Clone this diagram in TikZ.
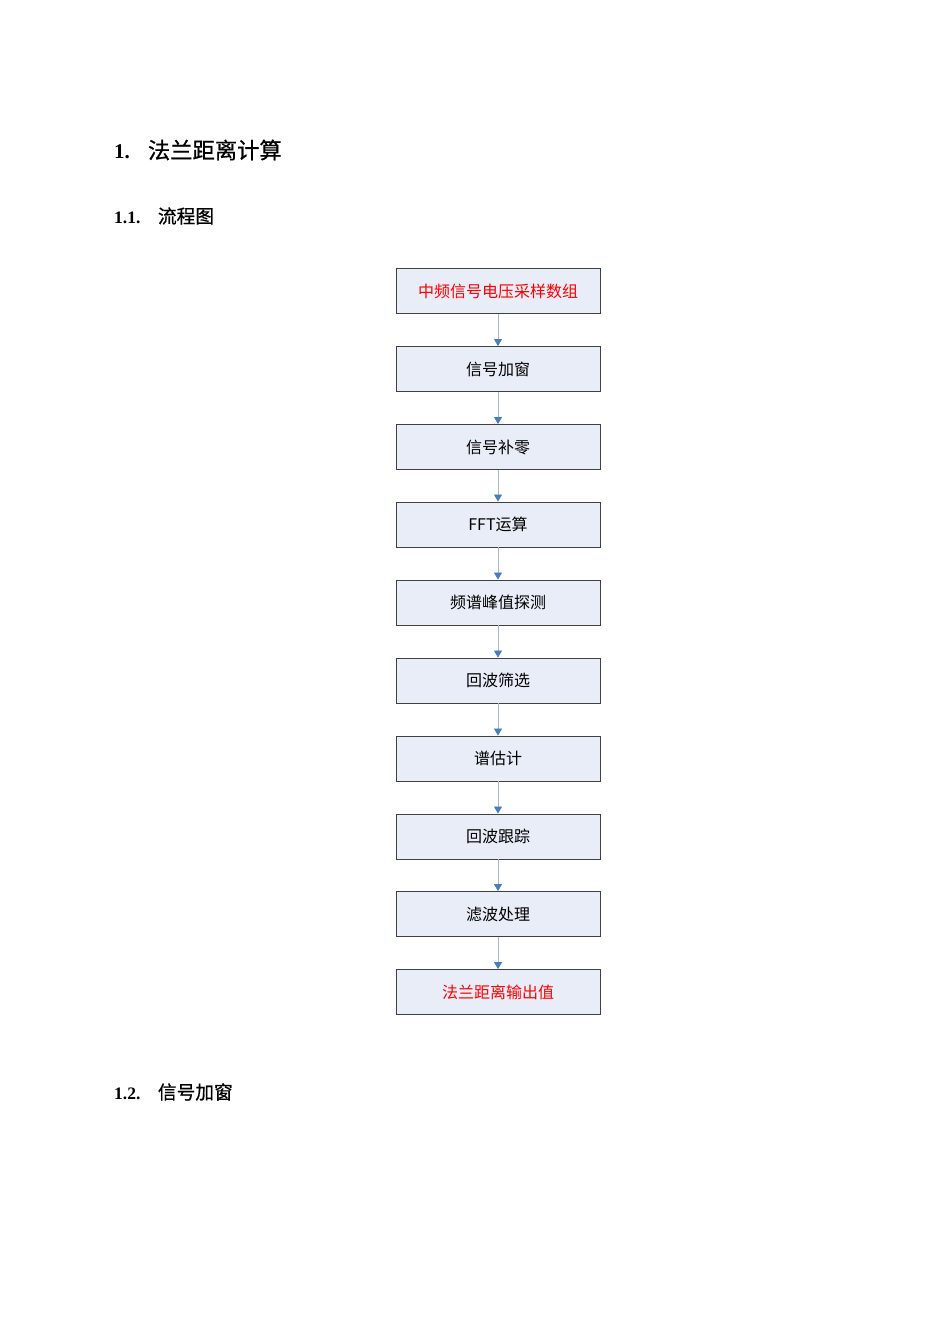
\documentclass[tikz,border=0pt]{standalone}
\usepackage{fontspec}
\setmainfont{Liberation Serif}
\newfontfamily\cjk{Noto Sans CJK SC}
\newfontfamily\cjkh[FakeBold=0.8]{Noto Sans CJK SC}
\usetikzlibrary{arrows.meta}
\definecolor{boxfill}{HTML}{E9EDF7}
\definecolor{boxedge}{HTML}{404040}
\definecolor{arrowc}{HTML}{4A7EBB}
\definecolor{linec}{HTML}{A8B8D0}
\definecolor{redtxt}{HTML}{FF0000}
\tikzset{
  stepbox/.style={draw=boxedge, line width=0.9pt, fill=boxfill, minimum width=204pt, minimum height=45pt, inner sep=0pt, font=\cjk\fontsize{16}{18}\selectfont, text=black},
  redbox/.style={stepbox, text=redtxt},
  flow/.style={draw=linec, line width=0.8pt, -{Triangle[length=7pt,width=8pt,fill=arrowc,color=arrowc]}},
  hone/.style={anchor=west, inner sep=0pt, font=\fontsize{21}{24}\selectfont\bfseries},
  htwo/.style={anchor=west, inner sep=0pt, font=\fontsize{17.5}{20}\selectfont\bfseries}
}
\begin{document}
\begin{tikzpicture}[x=1pt,y=-1pt]
\useasboundingbox (0,0) rectangle (950,1344);
\fill[white] (0,0) rectangle (950,1344);
\node[hone] (h1) at (114,150) {1.\hspace{18pt}{\cjkh\mdseries\fontsize{22.3}{24}\selectfont 法兰距离计算}};
\node[htwo] (h11) at (114,216) {1.1.\hspace{17.5pt}{\cjkh\mdseries\fontsize{18.7}{20}\selectfont 流程图}};
\node[htwo] (h12) at (114,1092) {1.2.\hspace{17.5pt}{\cjkh\mdseries\fontsize{18.7}{20}\selectfont 信号加窗}};
\node[redbox]  (b1)  at (498,291) {中频信号电压采样数组};
\node[stepbox] (b2)  at (498,369) {信号加窗};
\node[stepbox] (b3)  at (498,447) {信号补零};
\node[stepbox] (b4)  at (498,524.5) {FFT运算};
\node[stepbox] (b5)  at (498,602.5) {频谱峰值探测};
\node[stepbox] (b6)  at (498,680.5) {回波筛选};
\node[stepbox] (b7)  at (498,758.5) {谱估计};
\node[stepbox] (b8)  at (498,836.5) {回波跟踪};
\node[stepbox] (b9)  at (498,914) {滤波处理};
\node[redbox]  (b10) at (498,992) {法兰距离输出值};
\foreach \a/\b in {b1/b2,b2/b3,b3/b4,b4/b5,b5/b6,b6/b7,b7/b8,b8/b9,b9/b10}
  \draw[flow] (\a.south) -- (\b.north);
\end{tikzpicture}
\end{document}
